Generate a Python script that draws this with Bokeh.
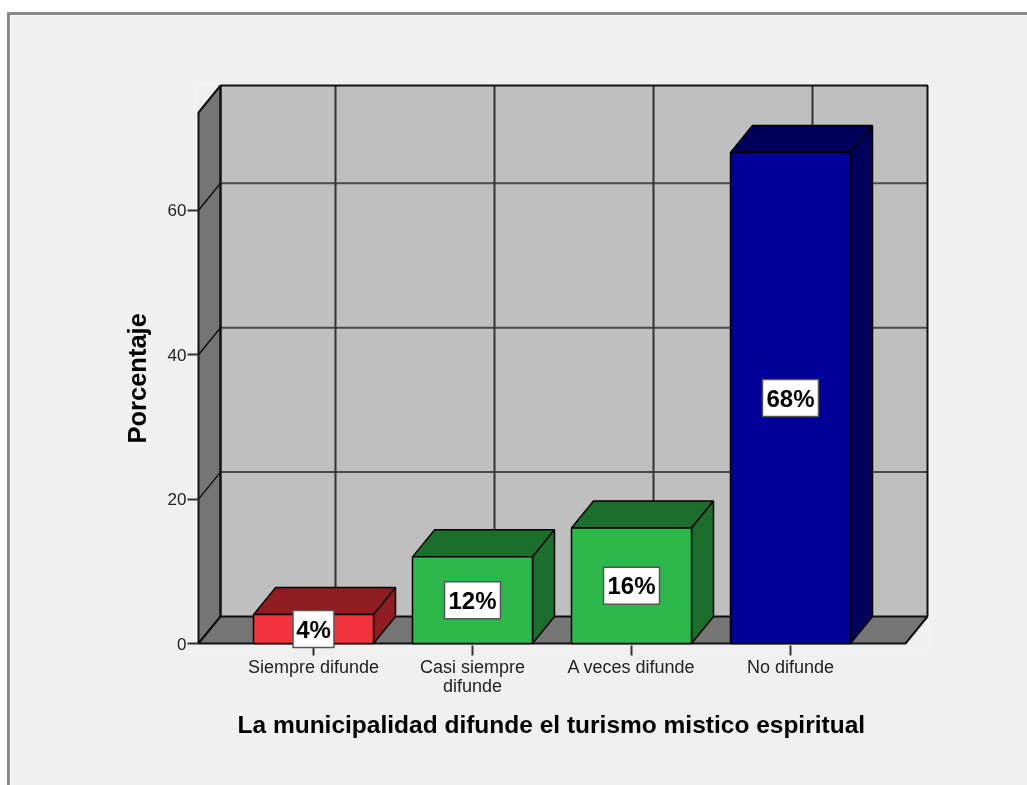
from bokeh.plotting import figure
from bokeh.embed import file_html
from bokeh.resources import INLINE
from bokeh.models import Title, FixedTicker
from bokeh.core.properties import value

categories = ["Siempre difunde", "Casi siempre\ndifunde", "A veces difunde", "No difunde"]
percentages = [4, 12, 16, 68]
bar_labels = ["4%", "12%", "16%", "68%"]
y_ticks = [0, 20, 40, 60]
front_colors = ["#f3333b", "#2db84b", "#2db84b", "#000099"]
side_colors = ["#8f1d21", "#1c6e2d", "#1c6e2d", "#00005c"]
x_title = "La municipalidad difunde el turismo mistico espiritual"
y_title = "Porcentaje"

PX_X = 159.0
PX_Y = 7.22
DX = 22 / PX_X
DY = 27 / PX_Y
HALF = 60 / PX_X
XMIN = (198 - 313) / PX_X
XMAX = (927 - 313) / PX_X
YMAX = 558 / PX_Y
FRONT_R = XMAX - DX
BACK_L = XMIN + DX
FRONT_TOP = YMAX - DY
PAD_X = 2 / PX_X
PAD_TOP = 2 / PX_Y
PAD_BOTTOM = 5 / PX_Y

p = figure(width=1020, height=773, x_range=(XMIN - PAD_X, XMAX + PAD_X), y_range=(-PAD_BOTTOM, YMAX + PAD_TOP),
           output_backend="svg", toolbar_location=None,
           min_border_left=186, min_border_right=101, min_border_top=68, min_border_bottom=140)
p.styles = {"position": "fixed", "left": "7px", "top": "12px",
            "border-left": "3px solid #8a8a8a", "border-top": "3px solid #8a8a8a"}
p.border_fill_color = "#f0f0f0"
p.background_fill_color = "#f0f0f0"
p.outline_line_color = None
p.grid.visible = False

LINE = "#111111"
GRID = "#4a4a4a"
# back wall
p.quad(left=[BACK_L], right=[XMAX], bottom=[DY], top=[YMAX], fill_color="#bfbfbf", line_color=None)
# grid on the back wall
p.multi_line(xs=[[BACK_L, XMAX] for t in y_ticks[1:]], ys=[[t + DY, t + DY] for t in y_ticks[1:]],
             line_color=GRID, line_width=2)
p.multi_line(xs=[[i + DX, i + DX] for i in range(len(percentages))], ys=[[DY, YMAX]] * len(percentages),
             line_color="#333333", line_width=2)
# left wall and floor
p.patch([XMIN, BACK_L, BACK_L, XMIN], [0, DY, YMAX, FRONT_TOP], fill_color="#757575", line_color=LINE, line_width=2)
p.patch([XMIN, BACK_L, XMAX, FRONT_R], [0, DY, DY, 0], fill_color="#757575", line_color=LINE, line_width=2)
p.multi_line(xs=[[XMIN, BACK_L] for t in y_ticks[1:]], ys=[[t, t + DY] for t in y_ticks[1:]],
             line_color=LINE, line_width=1.5)
# back wall edges
p.line([BACK_L, XMAX, XMAX], [YMAX, YMAX, DY], line_color=LINE, line_width=2)
p.line([BACK_L, BACK_L], [DY, YMAX], line_color=LINE, line_width=2)

# bars
for i, v in enumerate(percentages):
    l, r = i - HALF, i + HALF
    p.patch([l, r, r + DX, l + DX], [v, v, v + DY, v + DY], fill_color=side_colors[i], line_color="black", line_width=1.5)
    p.patch([r, r + DX, r + DX, r], [0, DY, v + DY, v], fill_color=side_colors[i], line_color="black", line_width=1.5)
    p.quad(left=[l], right=[r], bottom=[0], top=[v], fill_color=front_colors[i], line_color="black", line_width=1.5)

# value labels
xs = list(range(len(percentages)))
mids = [v / 2 for v in percentages]
p.rect(x=xs, y=mids, width=[11 + 15 * len(s) for s in bar_labels], width_units="screen", height=37, height_units="screen",
       fill_color="white", line_color="#555555", line_width=1.5, level="overlay")
p.text(x=xs, y=mids, text=bar_labels, text_align="center", text_baseline="middle",
       text_font=value("Liberation Sans"), text_font_style="bold", text_font_size="24px", text_color="black",
       level="overlay")

# axes
p.yaxis.ticker = FixedTicker(ticks=y_ticks)
p.yaxis.axis_line_color = None
p.yaxis.major_tick_line_color = "#333333"
p.yaxis.major_tick_line_width = 2
p.yaxis.major_tick_out = 9
p.yaxis.major_tick_in = 2
p.yaxis.minor_tick_line_color = None
p.yaxis.major_label_text_font = "Liberation Sans"
p.yaxis.major_label_text_font_size = "17px"
p.yaxis.major_label_text_color = "#222222"
p.yaxis.major_label_standoff = 1

p.xaxis.ticker = FixedTicker(ticks=xs)
p.xaxis.major_label_overrides = {i: c for i, c in enumerate(categories)}
p.xaxis.axis_line_color = None
p.xaxis.major_tick_line_color = "#333333"
p.xaxis.major_tick_line_width = 2
p.xaxis.major_tick_out = 7
p.xaxis.major_tick_in = 3
p.xaxis.minor_tick_line_color = None
p.xaxis.major_label_text_font = "Liberation Sans"
p.xaxis.major_label_text_font_size = "18px"
p.xaxis.major_label_text_color = "#222222"
p.xaxis.major_label_text_line_height = 0.95
p.xaxis.major_label_standoff = 1

# axis titles
p.add_layout(Title(text=x_title, align="left", offset=41, standoff=21, text_font="Liberation Sans",
                   text_font_style="bold", text_font_size="24.5px", text_color="black"), "below")
p.add_layout(Title(text=y_title, align="left", offset=205, standoff=28, text_font="Liberation Sans",
                   text_font_style="bold", text_font_size="25.5px", text_color="black"), "left")

open("out.html", "w").write(file_html(p, INLINE))
